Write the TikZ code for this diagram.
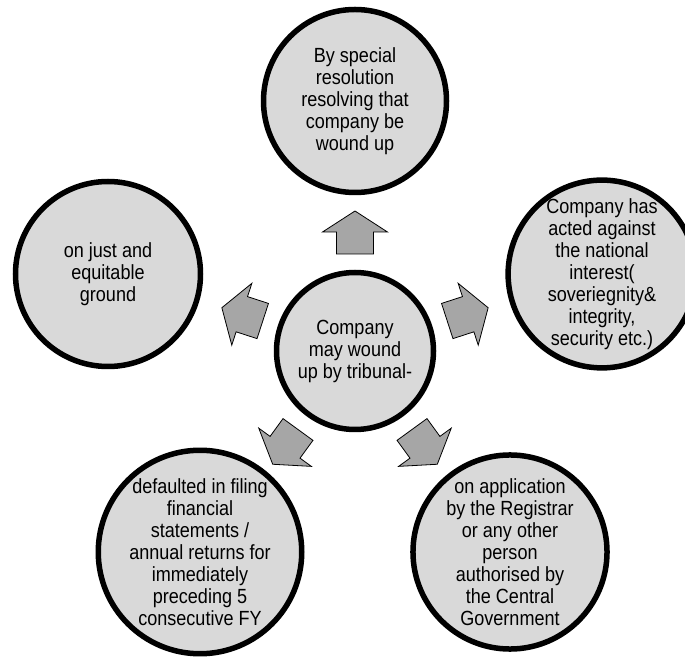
\documentclass[tikz,border=0pt]{standalone}
\usepackage{fontspec}
\setmainfont{Liberation Sans}[FakeStretch=0.88]
\definecolor{bubblefill}{RGB}{217,217,217}
\definecolor{arrowfill}{RGB}{166,166,166}
\begin{document}
\begin{tikzpicture}[x=1pt,y=1pt,
  bubble/.style={circle,draw=black,line width=5.5pt,fill=bubblefill,inner sep=0pt,
    align=center,font=\fontsize{20.5}{22}\selectfont},
  blockarrow/.style={draw=black,line width=0.8pt,fill=arrowfill,line join=miter}]
\useasboundingbox (0,0) rectangle (685,656);
\node[bubble,minimum size=157pt] (C) at (355,305) {Company\\may wound\\up by tribunal-};
\node[bubble,minimum size=183pt] (T) at (355,555) {By special\\resolution\\resolving that\\company be\\wound up};
\node[bubble,minimum size=185pt] (L) at (108,382) {on just and\\equitable\\ground};
\node[bubble,minimum size=185pt] (R) at (602,382) {Company has\\acted against\\the national\\interest(\\soveriegnity\&\\integrity,\\security etc.)};
\node[bubble,minimum size=195pt] (BL) at (200,104) {defaulted in filing\\financial\\statements /\\annual returns for\\immediately\\preceding 5\\consecutive FY};
\node[bubble,minimum size=185pt] (BR) at (510,104) {on application\\by the Registrar\\or any other\\person\\authorised by\\the Central\\Government};
\foreach \a in {90,18,-54,-126,162}{
  \draw[blockarrow,shift={(C.center)},rotate=\a]
    (97,18.5) -- (119,18.5) -- (119,32.5) -- (140,0) -- (119,-32.5) -- (119,-18.5) -- (97,-18.5) -- cycle;
}
\end{tikzpicture}
\end{document}
